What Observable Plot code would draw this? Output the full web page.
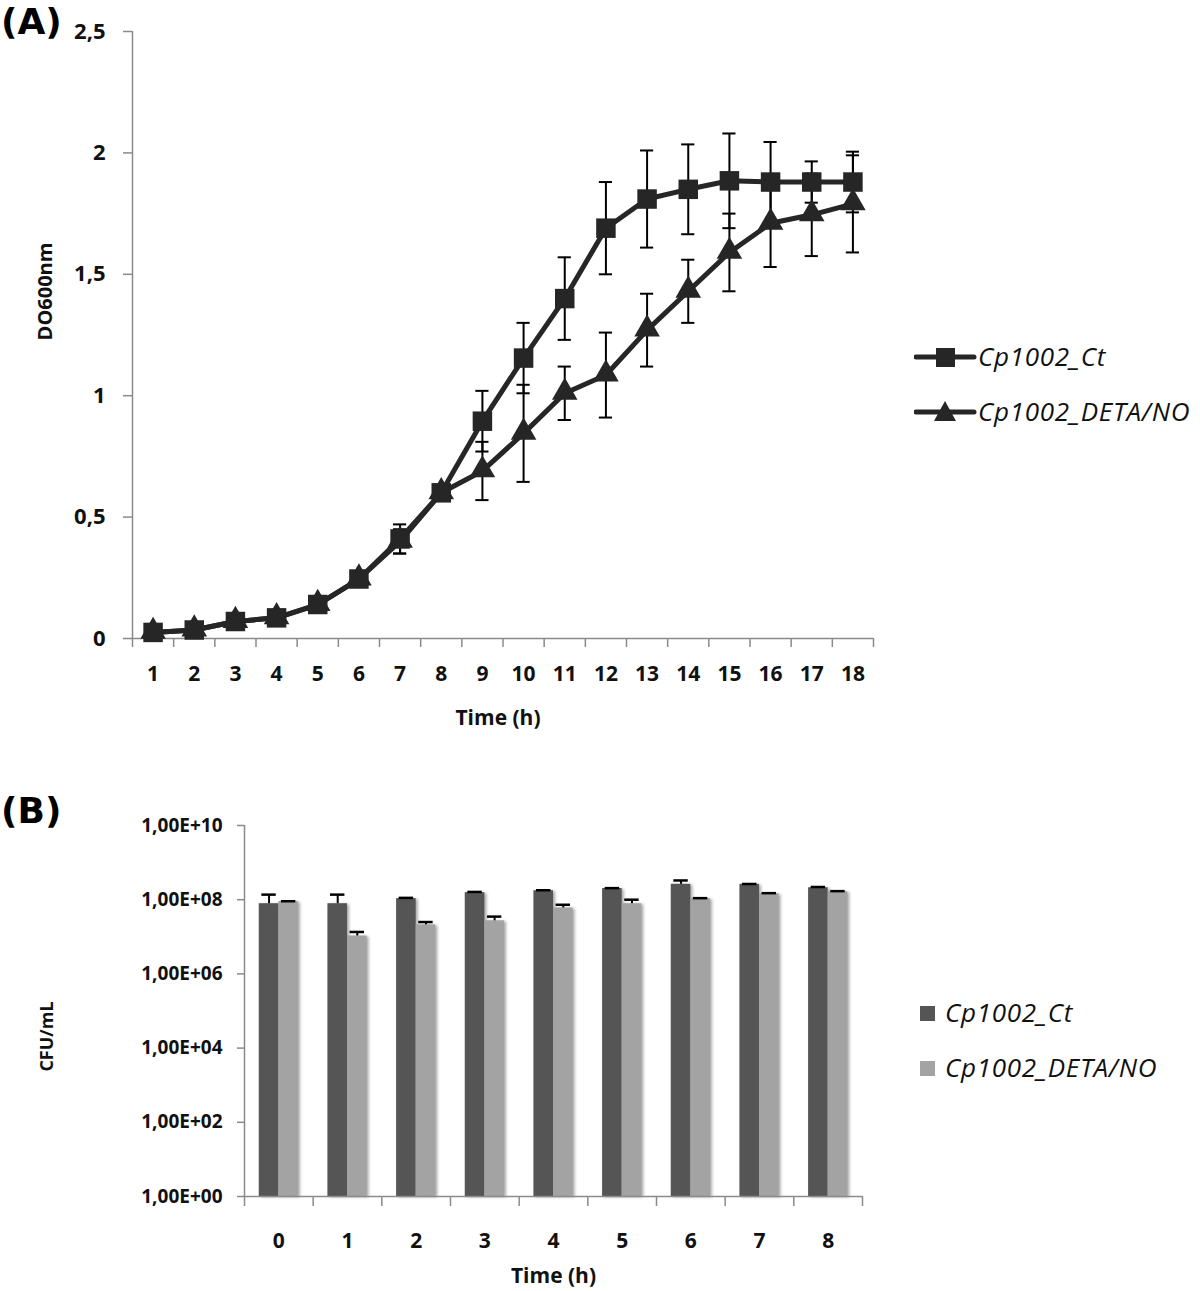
<!DOCTYPE html>
<html>
<head>
<meta charset="utf-8">
<script src="https://cdn.jsdelivr.net/npm/d3@7"></script>
<script src="https://cdn.jsdelivr.net/npm/@observablehq/plot@0.6"></script>
<style>
  html, body { margin: 0; padding: 0; background: #fff; }
  #page { position: relative; width: 1200px; height: 1291px; overflow: hidden; font-family: "Open Sans", sans-serif; color: #111; }
  .panel { position: absolute; }
  .tag { position: absolute; font-family: "DejaVu Sans", sans-serif; font-weight: 700; font-size: 36px; line-height: 1.2; color: #000; }
  .leg { position: absolute; display: flex; align-items: center; font-style: italic; font-size: 26px; letter-spacing: 0.7px; line-height: 1.2; color: #111; white-space: nowrap; }
  .leg svg { display: block; }
</style>
</head>
<body>
<div id="page">
  <div class="tag" style="left:1px; top:0px;">(A)</div>
  <div class="tag" style="left:1px; top:789px;">(B)</div>
  <div class="panel" id="plotA" style="left:0; top:0;"></div>
  <div class="panel" id="plotB" style="left:0; top:780px;"></div>

  <div class="leg" style="left:914px; top:341px;">
    <svg width="64" height="30"><line x1="2" y1="15" x2="60" y2="15" stroke="#262626" stroke-width="5" stroke-linecap="round"/><rect x="22" y="6" width="19" height="19" fill="#262626"/></svg>
    <span id="legA1"></span>
  </div>
  <div class="leg" style="left:914px; top:396px;">
    <svg width="64" height="30"><line x1="2" y1="15" x2="60" y2="15" stroke="#262626" stroke-width="5" stroke-linecap="round"/><path d="M31,4 L42,24 L20,24 Z" fill="#262626"/></svg>
    <span id="legA2"></span>
  </div>
  <div class="leg" style="left:919px; top:997px;">
    <svg width="26" height="28"><rect x="1" y="7" width="15" height="15" fill="#555555"/></svg>
    <span id="legB1"></span>
  </div>
  <div class="leg" style="left:919px; top:1052px;">
    <svg width="26" height="28"><rect x="1" y="7" width="15" height="15" fill="#a3a3a3"/></svg>
    <span id="legB2"></span>
  </div>
</div>
<script>
// ---------- Data: panel A (OD600 growth curve) ----------
const seriesNames = ["Cp1002_Ct", "Cp1002_DETA/NO"];
const timeA = [1, 2, 3, 4, 5, 6, 7, 8, 9, 10, 11, 12, 13, 14, 15, 16, 17, 18];
const ctA = [0.025, 0.035, 0.07, 0.085, 0.14, 0.245, 0.41, 0.60, 0.895, 1.155, 1.40, 1.69, 1.81, 1.85, 1.885, 1.88, 1.88, 1.88];
const ctAErr = [0.005, 0.005, 0.01, 0.01, 0.01, 0.015, 0.06, 0.03, 0.125, 0.145, 0.17, 0.19, 0.20, 0.185, 0.195, 0.165, 0.085, 0.125];
const detaA = [0.025, 0.035, 0.07, 0.085, 0.14, 0.245, 0.40, 0.60, 0.69, 0.845, 1.01, 1.085, 1.27, 1.43, 1.59, 1.71, 1.745, 1.79];
const detaAErr = [0.005, 0.005, 0.01, 0.01, 0.01, 0.015, 0.05, 0.03, 0.12, 0.20, 0.11, 0.175, 0.15, 0.13, 0.16, 0.18, 0.17, 0.20];
const yTicksA = [0, 0.5, 1, 1.5, 2, 2.5];
const axisTitleA = "DO600nm";
const axisTitleB = "CFU/mL";
const timeTitle = "Time (h)";

// ---------- Data: panel B (CFU/mL) ----------
const timeB = [0, 1, 2, 3, 4, 5, 6, 7, 8];
const ctB = [7.8e7, 7.8e7, 1.07e8, 1.55e8, 1.75e8, 2.0e8, 2.6e8, 2.6e8, 2.1e8];
const ctBHi = [1.37e8, 1.37e8, 1.12e8, 1.62e8, 1.8e8, 2.05e8, 3.3e8, 2.65e8, 2.2e8];
const detaB = [8.9e7, 1.05e7, 2.1e7, 2.7e7, 6.0e7, 7.8e7, 1.07e8, 1.45e8, 1.65e8];
const detaBHi = [9.1e7, 1.35e7, 2.5e7, 3.5e7, 7.3e7, 1.0e8, 1.1e8, 1.5e8, 1.7e8];
const yTicksB = [1, 1e2, 1e4, 1e6, 1e8, 1e10];

document.getElementById("legA1").textContent = seriesNames[0];
document.getElementById("legA2").textContent = seriesNames[1];
document.getElementById("legB1").textContent = seriesNames[0];
document.getElementById("legB2").textContent = seriesNames[1];

const axisGray = "#8a8a8a";
const ink = "#262626";
const font = "Open Sans";

// ---------- Panel A ----------
const rowsA = [];
timeA.forEach((t, i) => {
  rowsA.push({t, v: ctA[i], e: ctAErr[i], s: seriesNames[0]});
  rowsA.push({t, v: detaA[i], e: detaAErr[i], s: seriesNames[1]});
});
const ctRows = rowsA.filter(d => d.s === seriesNames[0]);
const detaRows = rowsA.filter(d => d.s === seriesNames[1]);
const boundsA = timeA.map(t => t - 0.5).concat([timeA[timeA.length - 1] + 0.5]);
const capA = 0.16;

const plotA = Plot.plot({
  width: 900, height: 740,
  marginLeft: 132, marginRight: 27, marginTop: 31, marginBottom: 102,
  style: {fontFamily: font, fontWeight: 700, background: "transparent", overflow: "visible", color: "#111"},
  x: {domain: [timeA[0] - 0.5, timeA[timeA.length - 1] + 0.5], axis: null},
  y: {domain: [yTicksA[0], yTicksA[yTicksA.length - 1]], axis: null},
  marks: [
    Plot.axisY(yTicksA, {tickSize: 9, tickPadding: 18, stroke: axisGray, strokeWidth: 1.5, fontSize: 22, label: null,
      tickFormat: d => String(d).replace(".", ",")}),
    Plot.axisX(boundsA, {tickSize: 9, stroke: axisGray, strokeWidth: 1.5, tickFormat: () => "", label: null}),
    Plot.axisX(timeA, {tickSize: 0, tickPadding: 28, fontSize: 21, label: null}),
    Plot.ruleX([boundsA[0]], {stroke: axisGray, strokeWidth: 1.5}),
    Plot.ruleY([0], {stroke: axisGray, strokeWidth: 1.5}),
    // error bars
    Plot.ruleX(rowsA, {x: "t", y1: d => d.v - d.e, y2: d => d.v + d.e, stroke: "#000", strokeWidth: 2}),
    Plot.ruleY(rowsA, {y: d => d.v + d.e, x1: d => d.t - capA, x2: d => d.t + capA, stroke: "#000", strokeWidth: 2}),
    Plot.ruleY(rowsA, {y: d => d.v - d.e, x1: d => d.t - capA, x2: d => d.t + capA, stroke: "#000", strokeWidth: 2}),
    // lines
    Plot.line(detaRows, {x: "t", y: "v", stroke: ink, strokeWidth: 5}),
    Plot.line(ctRows, {x: "t", y: "v", stroke: ink, strokeWidth: 5}),
    Plot.dot(detaRows, {x: "t", y: "v", symbol: "triangle", r: 9.5, fill: ink, dy: -1}),
    Plot.dot(ctRows, {x: "t", y: "v", symbol: "square", r: 11, fill: ink}),
    // axis titles
    Plot.text([timeTitle], {frameAnchor: "bottom", dx: -5, dy: 80, fontSize: 21, fontWeight: 700, lineAnchor: "middle"}),
    Plot.text([axisTitleA], {frameAnchor: "top-left", dx: -87, dy: 260, rotate: -90, fontSize: 20, fontWeight: 700, textAnchor: "middle", lineAnchor: "middle"})
  ]
});
document.getElementById("plotA").appendChild(plotA);

// ---------- Panel B ----------
const rowsB = [];
timeB.forEach((t, i) => {
  rowsB.push({t, v: ctB[i], hi: ctBHi[i], s: seriesNames[0], k: 0});
  rowsB.push({t, v: detaB[i], hi: detaBHi[i], s: seriesNames[1], k: 1});
});
const boundsB = timeB.map(t => t - 0.5).concat([timeB[timeB.length - 1] + 0.5]);
const barW = 0.285;
const capB = 0.105;
const x1B = d => d.t - barW + d.k * barW;
const midB = d => x1B(d) + barW / 2;

const plotB = Plot.plot({
  width: 900, height: 511,
  marginLeft: 244, marginRight: 38, marginTop: 45, marginBottom: 95,
  style: {fontFamily: font, fontWeight: 700, background: "transparent", overflow: "visible", color: "#111"},
  x: {domain: [timeB[0] - 0.5, timeB[timeB.length - 1] + 0.5], axis: null},
  y: {type: "log", domain: [yTicksB[0], yTicksB[yTicksB.length - 1]], axis: null},
  color: {domain: seriesNames, range: ["#555555", "#a3a3a3"]},
  marks: [
    Plot.axisY(yTicksB, {tickSize: 7, tickPadding: 15, stroke: axisGray, strokeWidth: 1.5, fontSize: 19, label: null,
      tickFormat: d => "1,00E+" + String(Math.round(Math.log10(d))).padStart(2, "0")}),
    Plot.axisX(boundsB, {tickSize: 10, stroke: axisGray, strokeWidth: 1.5, tickFormat: () => "", label: null}),
    Plot.axisX(timeB, {tickSize: 0, tickPadding: 37, fontSize: 21, label: null}),
    Plot.rect(rowsB, {x1: x1B, x2: d => x1B(d) + barW, y1: yTicksB[0], y2: "v", fill: "s"}),
    Plot.ruleX([boundsB[0]], {stroke: axisGray, strokeWidth: 1.5}),
    Plot.ruleY([yTicksB[0]], {stroke: axisGray, strokeWidth: 1.5}),
    Plot.ruleX(rowsB, {x: midB, y1: "v", y2: "hi", stroke: "#000", strokeWidth: 2}),
    Plot.ruleY(rowsB, {y: "hi", x1: d => midB(d) - capB, x2: d => midB(d) + capB, stroke: "#000", strokeWidth: 2.5}),
    Plot.text([timeTitle], {frameAnchor: "bottom", dy: 80, fontSize: 21, fontWeight: 700, lineAnchor: "middle"}),
    Plot.text([axisTitleB], {frameAnchor: "top-left", dx: -197, dy: 211, rotate: -90, fontSize: 18, fontWeight: 700, textAnchor: "middle", lineAnchor: "middle"})
  ]
});
d3.select(plotB).selectAll('g[aria-label="rect"]').style("filter", "drop-shadow(2px 1px 1.5px rgba(0,0,0,0.35))");
document.getElementById("plotB").appendChild(plotB);
</script>
</body>
</html>
